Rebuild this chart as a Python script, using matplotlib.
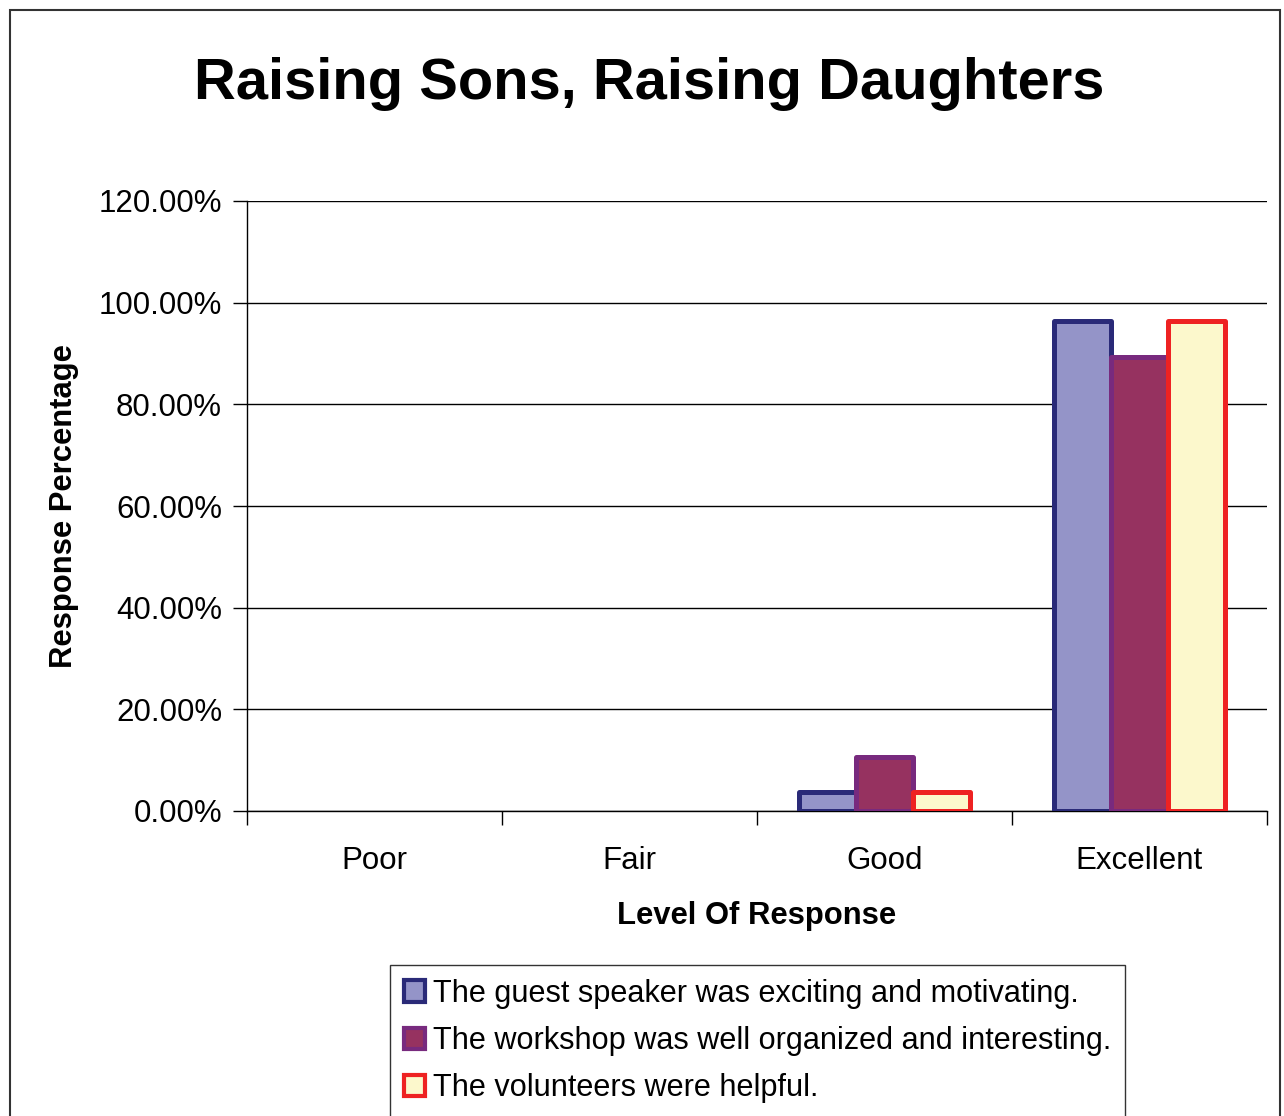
import numpy as np
import matplotlib
matplotlib.use("Agg")
from matplotlib import pyplot as plt
from matplotlib.patches import Patch, Rectangle
from matplotlib.ticker import FuncFormatter

plt.rcParams['font.family'] = ['Liberation Sans', 'DejaVu Sans']

categories = ['Poor', 'Fair', 'Good', 'Excellent']
speaker = [0.0, 0.0, 3.7, 96.3]
workshop = [0.0, 0.0, 10.7, 89.3]
volunteers = [0.0, 0.0, 3.7, 96.3]
series_labels = ['The guest speaker was exciting and motivating.',
                 'The workshop was well organized and interesting.',
                 'The volunteers were helpful.']

fills = ['#9494C8', '#963260', '#FCF8CC']
edges = ['#2A2A78', '#782A7E', '#EE2222']

fig = plt.figure(figsize=(12.84, 11.16), dpi=100)
fig.patches.append(Rectangle((10 / 1284, -0.1), 1270 / 1284, 1.1 - 10 / 1116,
                             transform=fig.transFigure, fill=False,
                             edgecolor='#333333', linewidth=1.5))

ax = fig.add_axes([247 / 1284, 1 - 811 / 1116, 1020 / 1284, 610 / 1116])

x = np.arange(len(categories))
w = 0.2235
for i, vals in enumerate([speaker, workshop, volunteers]):
    lw = [3.6 if v > 0 else 0 for v in vals]
    ax.bar(x + (i - 1) * w, vals, w, color=fills[i], edgecolor=edges[i],
           linewidth=lw, zorder=3, joinstyle='round')

ax.set_xlim(-0.5, 3.5)
ax.set_ylim(0, 120)
ax.set_yticks(np.arange(0, 121, 20))
ax.yaxis.set_major_formatter(FuncFormatter(lambda v, p: '%.2f%%' % v))
ax.grid(axis='y', color='black', linewidth=1, zorder=0)

ax.set_xticks(np.arange(-0.5, 3.6, 1))
ax.set_xticklabels([])
ax.set_xticks(x, minor=True)
ax.set_xticklabels(categories, minor=True)
ax.tick_params(axis='x', which='minor', length=0, pad=25, labelsize=22.5)
ax.tick_params(axis='x', which='major', length=10, width=1)
ax.tick_params(axis='y', length=10, width=1, pad=8, labelsize=22.5)

for s in ['top', 'right']:
    ax.spines[s].set_visible(False)
for s in ['left', 'bottom']:
    ax.spines[s].set_linewidth(1)

ax.set_xlabel('Level Of Response', fontsize=22.3, fontweight='bold', labelpad=18)
ax.set_ylabel('Response Percentage', fontsize=22.3, fontweight='bold', labelpad=14)

fig.text(649 / 1284, 1 - 84 / 1116, 'Raising Sons, Raising Daughters',
         fontsize=41.7, fontweight='bold', ha='center', va='center')

handles = [Patch(facecolor=fills[i], edgecolor=edges[i], linewidth=3)
           for i in range(3)]
leg = fig.legend(handles, series_labels, loc='upper left',
                 bbox_to_anchor=(390 / 1284, 1 - 965 / 1116),
                 fontsize=22.1, frameon=True, fancybox=False,
                 handlelength=0.7, handleheight=0.7, handletextpad=0.25,
                 labelspacing=0.56, borderpad=0.45, borderaxespad=0)
leg.get_frame().set_edgecolor('black')
leg.get_frame().set_linewidth(1)

fig.savefig('out.png', dpi=100)
